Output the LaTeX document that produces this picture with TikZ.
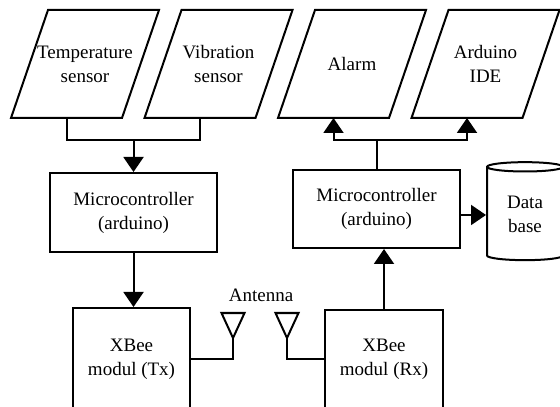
\documentclass[tikz,border=0pt]{standalone}
\usepackage{fontspec}
\setmainfont{Liberation Serif}
\usetikzlibrary{shapes.geometric,positioning,arrows.meta}

\begin{document}
\begin{tikzpicture}[x=0.5pt, y=0.5pt, >={Triangle[length=7.5pt,width=10pt]},
    line width=1pt, node distance=66.75pt, on grid,
    font=\fontsize{9.5}{12}\selectfont,
    io/.style={rectangle, minimum width=54.5pt, minimum height=53pt,
      align=center, inner sep=0pt},
    box/.style={draw, rectangle, align=center, inner sep=0pt}]

    \useasboundingbox (0,0) rectangle (560,406);

    % Ein- und Ausgaben
    \node[io] (tmp) at (85,342) {Temperature\\sensor};
    \node[io, right=of tmp] (vib) {Vibration\\sensor};
    \node[io, right=of vib] (alarm) {Alarm};
    \node[io, right=of alarm] (ide) {Arduino\\IDE};
    \foreach \n in {tmp,vib,alarm,ide} {
      \draw ([xshift=9.25pt]\n.north west) -- ([xshift=9.25pt]\n.north east)
        -- ([xshift=-9.25pt]\n.south east) -- ([xshift=-9.25pt]\n.south west) -- cycle;
      \coordinate (\n-b) at ([xshift=-9.25pt]\n.south);
    }

    % Bloecke
    \node[box, minimum width=83.5pt, minimum height=39.5pt] (mctx) at (133.5,193.5) {Microcontroller\\(arduino)};
    \node[box, minimum width=83.5pt, minimum height=39pt] (mcrx) at (376.5,197) {Microcontroller\\(arduino)};
    \node[box, minimum width=58.5pt, minimum height=51pt] (xbtx) at (131.5,47) {XBee\\modul (Tx)};
    \node[box, minimum width=59pt, minimum height=49pt] (xbrx) at (384,47) {XBee\\modul (Rx)};
    \node[draw, cylinder, shape border rotate=90, aspect=0.26, minimum width=38pt,
      minimum height=49pt, align=center, inner sep=0pt] (db) at (525,192) {Data\\base};

    % Antennen
    \coordinate (antx) at (233,68);
    \coordinate (anrx) at (287,68);
    \draw (antx) -- ++(-11.5,25) -- ++(23,0) -- cycle;
    \draw (anrx) -- ++(-11.5,25) -- ++(23,0) -- cycle;
    \node (antlbl) at (261,111) {Antenna};

    % Pfeile
    \coordinate (jtx) at (mctx.north |- 0,266);
    \draw (tmp-b) |- (jtx) -| (vib-b);
    \draw[->] (jtx) -- (mctx.north);
    \draw[->] (mctx.south) -- (mctx.south |- xbtx.north);
    \draw (antx) |- (xbtx.east);
    \draw (anrx) |- (xbrx.west);
    \draw[->] (xbrx.north) -- (xbrx.north |- mcrx.south);
    \coordinate (jrx) at (mcrx.north |- 0,266);
    \draw (mcrx.north) -- (jrx);
    \draw[->] (jrx) -| (alarm-b);
    \draw[->] (jrx) -| (ide-b);
    \coordinate (dbin) at ([yshift=-3pt]mcrx.east);
    \draw[->] (dbin) -- (dbin -| db.west);

\end{tikzpicture}
\end{document}
